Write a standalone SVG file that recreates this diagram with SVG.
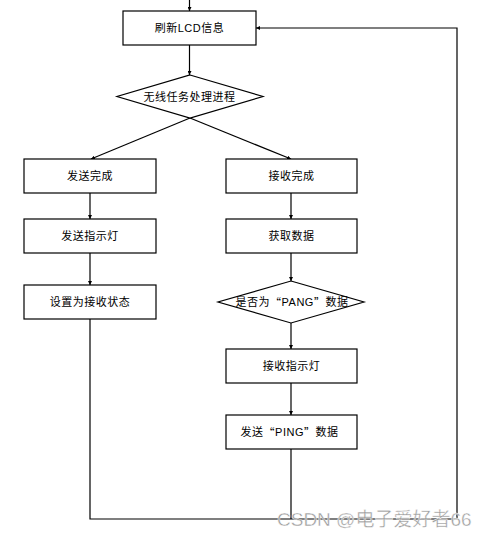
<svg xmlns="http://www.w3.org/2000/svg" width="488" height="537" viewBox="0 0 488 537">
<style>
.box{fill:#fff;stroke:#000;stroke-width:1.2}
.t{font-family:"Liberation Sans","Noto Sans CJK SC",sans-serif;font-size:11px;fill:#000;text-anchor:middle;dominant-baseline:central;letter-spacing:0.5px}
.q{font-family:"Noto Sans CJK SC",sans-serif}
.c{fill:none;stroke:#000;stroke-width:1.2}
.wm{font-family:"Liberation Sans","Noto Sans CJK SC",sans-serif;font-size:19px;fill:#9a9a9a;stroke:#fff;stroke-width:0.4}
</style>
<defs>
<marker id="a" viewBox="0 0 6 6" refX="6" refY="3" markerWidth="4" markerHeight="4" orient="auto-start-reverse" markerUnits="userSpaceOnUse">
<path d="M0,0L6,3L0,6z" fill="#000"/>
</marker>
</defs>
<rect width="488" height="537" fill="#fff"/>
<g id="connectors">
<path class="c" d="M189.5,0V11" marker-end="url(#a)"/>
<path class="c" d="M189.5,45V75" marker-end="url(#a)"/>
<path class="c" d="M190,118L91,159" marker-end="url(#a)"/>
<path class="c" d="M190,118L291,159" marker-end="url(#a)"/>
<path class="c" d="M90,193V219" marker-end="url(#a)"/>
<path class="c" d="M90,253V285" marker-end="url(#a)"/>
<path class="c" d="M291,193V219" marker-end="url(#a)"/>
<path class="c" d="M291,253V281" marker-end="url(#a)"/>
<path class="c" d="M291,323V349" marker-end="url(#a)"/>
<path class="c" d="M291,383V415" marker-end="url(#a)"/>
<path class="c" d="M291,449V519"/>
<path class="c" d="M90,319V519H457V28H256" marker-end="url(#a)"/>
</g>
<g id="n1"><rect class="box" x="123" y="11" width="133" height="34"/><text class="t" x="189.5" y="28">刷新LCD信息</text></g>
<g id="n2"><path class="box" d="M190,75L263,96.5L190,118L117,96.5Z"/><text class="t" x="189.5" y="96.5">无线任务处理进程</text></g>
<g id="n3"><rect class="box" x="24" y="159" width="132" height="34"/><text class="t" x="90" y="176">发送完成</text></g>
<g id="n4"><rect class="box" x="226" y="159" width="131" height="34"/><text class="t" x="291.5" y="176">接收完成</text></g>
<g id="n5"><rect class="box" x="24" y="219" width="132" height="34"/><text class="t" x="90" y="236">发送指示灯</text></g>
<g id="n6"><rect class="box" x="226" y="219" width="131" height="34"/><text class="t" x="291.5" y="236">获取数据</text></g>
<g id="n7"><rect class="box" x="24" y="285" width="132" height="34"/><text class="t" x="90" y="302">设置为接收状态</text></g>
<g id="n8"><path class="box" d="M291,281L364,302L291,323L218,302Z"/><text class="t" x="292" y="302" letter-spacing="1">是否为<tspan class="q">“</tspan>PANG<tspan class="q">”</tspan>数据</text></g>
<g id="n9"><rect class="box" x="226" y="349" width="131" height="34"/><text class="t" x="291.5" y="366">接收指示灯</text></g>
<g id="n10"><rect class="box" x="226" y="415" width="131" height="34"/><text class="t" x="289.5" y="432">发送<tspan class="q">“</tspan>PING<tspan class="q">”</tspan>数据</text></g>
<text class="wm" x="277" y="526">CSDN @电子爱好者66</text>
</svg>
